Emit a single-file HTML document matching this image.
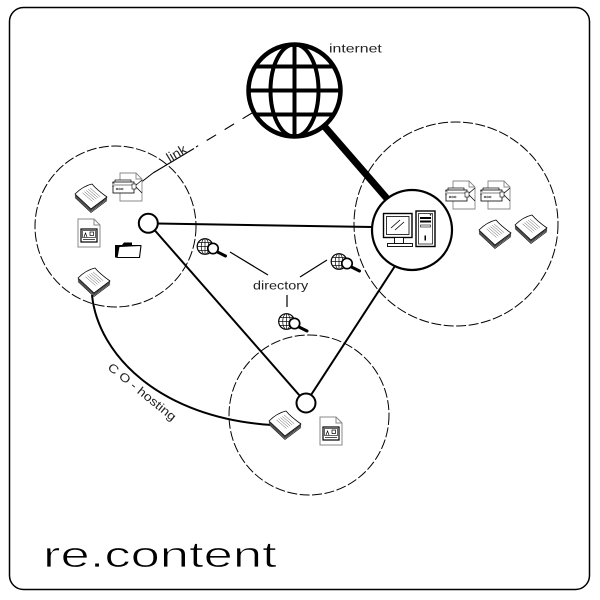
<!DOCTYPE html>
<html><head><meta charset="utf-8"><style>html,body{margin:0;padding:0;background:#fff}svg{display:block}</style></head>
<body>
<svg width="600" height="600" viewBox="0 0 600 600" xmlns="http://www.w3.org/2000/svg">
<defs>
<symbol id="stack" viewBox="0 0 34 30">
<g fill="#fff" stroke="#000" stroke-width="0.6" stroke-linejoin="round">
<path d="M1,14.5 L17,29.5 L33,17.5"/>
<path d="M1,13.3 L17,28.3 L33,16.3"/>
<path d="M1,12.1 L17,27.1 L33,15.1"/>
<path d="M1,11 Q9,3 18,1 Q23,7 33,14 L17,26 Z" stroke-width="0.8"/>
</g>
<g stroke="#444" stroke-width="0.45">
<line x1="16.1" y1="5" x2="26.1" y2="13.7"/>
<line x1="14.2" y1="6.2" x2="24.2" y2="14.9"/>
<line x1="12.3" y1="7.4" x2="22.3" y2="16.1"/>
<line x1="10.4" y1="8.6" x2="20.4" y2="17.3"/>
<line x1="8.5" y1="9.8" x2="18.5" y2="18.5"/>
</g>
</symbol>
<symbol id="fax" viewBox="0 0 32 30">
<path d="M8,1 H24 L30,7 V29 H8 Z" fill="#fff" stroke="#888" stroke-width="0.9"/>
<path d="M24,1 V7 H30" fill="none" stroke="#888" stroke-width="0.9"/>
<path d="M30,8 L23,14 L30,21" fill="none" stroke="#000" stroke-width="0.7"/>
<rect x="3" y="8" width="16" height="3" fill="#fff" stroke="#000" stroke-width="0.7"/>
<rect x="1" y="10" width="21" height="11" fill="#fff" stroke="#000" stroke-width="0.8"/>
<rect x="0" y="11" width="2" height="3" fill="#fff" stroke="#000" stroke-width="0.5"/>
<line x1="3" y1="13" x2="20" y2="13" stroke="#000" stroke-width="0.5"/>
<g fill="none" stroke="#000" stroke-width="0.5">
<circle cx="5" cy="17" r="0.9"/><circle cx="7.6" cy="17" r="0.9"/><circle cx="10.2" cy="17" r="0.9"/>
</g>
<rect x="20" y="12" width="4" height="5" fill="#fff" stroke="#000" stroke-width="0.6"/>
</symbol>
<symbol id="img" viewBox="0 0 24 30">
<path d="M1,1 H17 L23,7 V29 H1 Z" fill="#fff" stroke="#888" stroke-width="1"/>
<path d="M17,1 V7 H23" fill="none" stroke="#888" stroke-width="1"/>
<rect x="4" y="11" width="16" height="13" fill="#fff" stroke="#000" stroke-width="1.2"/>
<rect x="5.5" y="12.5" width="13" height="7" fill="none" stroke="#000" stroke-width="0.6"/>
<path d="M7,19 L8.5,15 L10,19" fill="none" stroke="#000" stroke-width="0.7"/>
<rect x="13" y="14" width="3.5" height="3.5" fill="none" stroke="#000" stroke-width="0.7"/>
<line x1="6" y1="21.5" x2="18" y2="21.5" stroke="#000" stroke-width="0.7"/>
</symbol>
<symbol id="folder" viewBox="0 0 28 18">
<path d="M1,4 L8,4 L10,1.5 L18,1.5 L18,4 L26,4 L26,16.5 L1,16.5 Z" fill="#000"/>
<path d="M5,5.5 L27,4.5 L25.5,16.5 L3,16.5 Z" fill="#fff" stroke="#000" stroke-width="1.1" stroke-linejoin="round"/>
</symbol>
<symbol id="gs" viewBox="0 0 34 24" overflow="visible">
<circle cx="9" cy="9" r="7.8" fill="#fff" stroke="#000" stroke-width="1.2"/>
<g stroke="#000" stroke-width="0.7" fill="none">
<ellipse cx="9" cy="9" rx="3.8" ry="7.8"/>
<line x1="9" y1="1.2" x2="9" y2="16.8"/>
<line x1="1.2" y1="9" x2="16.8" y2="9"/>
<line x1="2.3" y1="5" x2="15.7" y2="5"/>
<line x1="2.3" y1="13" x2="15.7" y2="13"/>
</g>
<line x1="20.5" y1="14" x2="29.5" y2="18.5" stroke="#000" stroke-width="3" stroke-linecap="round"/>
<circle cx="17" cy="11" r="5.2" fill="#fff" stroke="#000" stroke-width="1.7"/>
</symbol>
</defs>

<!-- outer border -->
<rect x="9.5" y="7.5" width="580" height="582" rx="14" ry="14" fill="#fff" stroke="#000" stroke-width="1.5"/>

<!-- dashed regions -->
<g fill="none" stroke="#000" stroke-width="1" stroke-dasharray="10 2.5">
<circle cx="115.5" cy="226.5" r="80.5"/>
<circle cx="456" cy="224" r="102"/>
<circle cx="309" cy="415" r="80"/>
</g>

<!-- link line -->
<line x1="252" y1="113" x2="196" y2="147" stroke="#000" stroke-width="1.1" stroke-dasharray="11 10"/>
<line x1="194" y1="148.5" x2="153" y2="173" stroke="#000" stroke-width="1.1"/>
<line x1="153" y1="173" x2="135" y2="187" stroke="#000" stroke-width="1"/>

<!-- co-hosting curve -->
<path d="M92,295 C98,355 160,418 272,425" fill="none" stroke="#000" stroke-width="2"/>

<!-- connection lines -->
<g stroke="#000" stroke-width="2" fill="none">
<line x1="157" y1="223.5" x2="372" y2="227"/>
<line x1="154.5" y1="230" x2="300" y2="396"/>
<line x1="395" y1="266" x2="311" y2="395"/>
</g>

<!-- thick internet line -->
<line x1="318" y1="119" x2="390" y2="202" stroke="#000" stroke-width="7"/>

<!-- globe -->
<circle cx="294.5" cy="90.5" r="46" fill="#fff" stroke="#000" stroke-width="4.5"/>
<g stroke="#000" stroke-width="4" fill="none">
<ellipse cx="294.5" cy="90.5" rx="24" ry="46"/>
<line x1="294.5" y1="45" x2="294.5" y2="136"/>
<line x1="249" y1="90.5" x2="340" y2="90.5"/>
<line x1="255.3" y1="66.5" x2="333.7" y2="66.5"/>
<line x1="255.3" y1="114.5" x2="333.7" y2="114.5"/>
</g>

<!-- nodes -->
<circle cx="148.3" cy="223.3" r="9.5" fill="#fff" stroke="#000" stroke-width="2"/>
<circle cx="306" cy="403" r="9.5" fill="#fff" stroke="#000" stroke-width="2"/>
<circle cx="412" cy="230" r="40" fill="#fff" stroke="#000" stroke-width="2.2"/>

<!-- computer -->
<g stroke="#000" fill="#fff">
<rect x="383.5" y="213.5" width="28.5" height="24" stroke-width="1.4"/>
<rect x="386.5" y="216.5" width="22.5" height="18" stroke-width="0.8"/>
<line x1="391" y1="228" x2="400" y2="220" stroke-width="0.8"/>
<line x1="395" y1="230" x2="404" y2="222" stroke-width="0.8"/>
<rect x="394.5" y="237.5" width="9" height="6" stroke-width="0.9"/>
<rect x="387.5" y="243.5" width="25" height="3" stroke-width="0.9"/>
<rect x="416" y="211" width="19" height="35.5" stroke-width="1.4"/>
<rect x="418.5" y="213.5" width="14" height="30.5" stroke-width="0.7"/>
</g>
<g fill="#000">
<rect x="420" y="217" width="11" height="2"/>
<rect x="420" y="220.5" width="11" height="2"/>
<circle cx="430.5" cy="214.8" r="0.8"/>
<rect x="424.5" y="235.5" width="1.5" height="5"/>
</g>
<rect x="420.5" y="225" width="10" height="2" fill="#fff" stroke="#000" stroke-width="0.6"/>

<!-- icons left -->
<use href="#stack" x="74" y="183" width="34" height="30"/>
<use href="#fax" x="112" y="172" width="32" height="30"/>
<use href="#img" x="77" y="218" width="24" height="30"/>
<use href="#folder" x="114" y="241" width="28" height="18"/>
<use href="#stack" x="77" y="267" width="34" height="30"/>

<!-- icons right -->
<use href="#fax" x="445" y="180" width="32" height="30"/>
<use href="#fax" x="480" y="180" width="32" height="30"/>
<use href="#stack" x="478" y="219" width="34" height="30"/>
<use href="#stack" x="514" y="214" width="34" height="30"/>

<!-- icons bottom -->
<use href="#stack" x="268" y="410" width="34" height="30"/>
<use href="#img" x="319" y="416" width="24" height="30"/>

<!-- directory -->
<g stroke="#000" stroke-width="1.2">
<line x1="230" y1="252" x2="268" y2="275"/>
<line x1="300" y1="277" x2="327" y2="260"/>
<line x1="287" y1="295" x2="287" y2="307"/>
</g>
<use href="#gs" x="196" y="237.5" width="34" height="24"/>
<use href="#gs" x="330" y="252.5" width="34" height="24"/>
<use href="#gs" x="277.5" y="312.5" width="34" height="24"/>

<!-- labels -->
<g font-family="Liberation Sans, sans-serif" fill="#222">
<text x="0" y="0" font-size="12" transform="translate(329,52.5) scale(1.32,1)">internet</text>
<text x="0" y="0" font-size="12" transform="translate(253,289.3) scale(1.2,1)">directory</text>
<text x="0" y="0" font-size="14" text-anchor="middle" transform="translate(179,157.5) rotate(-31)">link</text>
<text x="0" y="0" font-size="12" text-anchor="middle" transform="translate(139.5,395) rotate(39)" textLength="84" lengthAdjust="spacingAndGlyphs">C O - hosting</text>
<text x="0" y="0" font-size="36" fill="#000" stroke="#fff" stroke-width="0.8" transform="translate(43,567) scale(1.46,1)">re.content</text>
</g>
</svg>
</body></html>
